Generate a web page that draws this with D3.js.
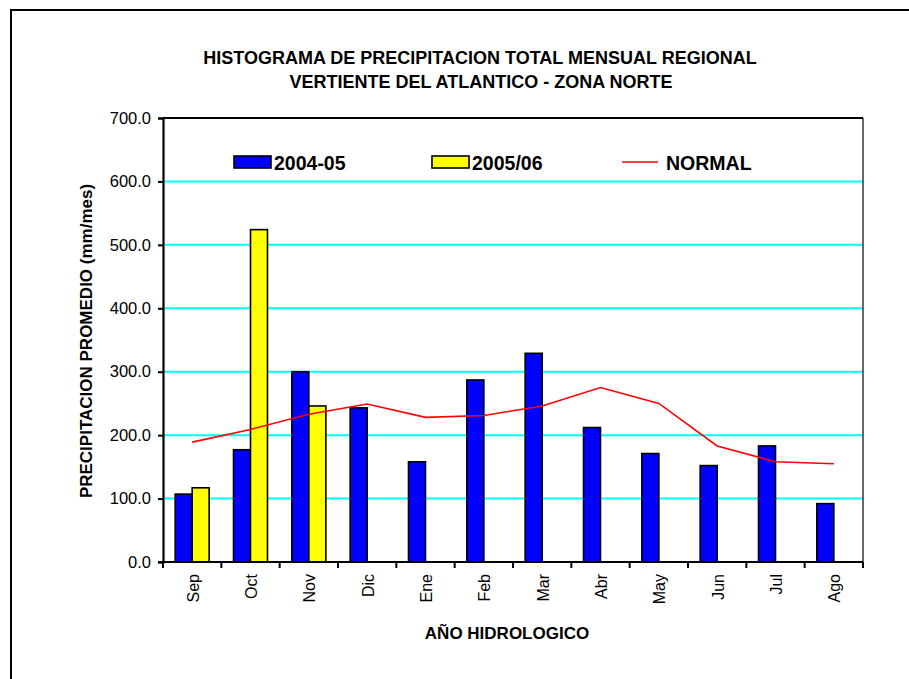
<!DOCTYPE html>
<html>
<head>
<meta charset="utf-8">
<script src="https://cdn.jsdelivr.net/npm/d3@7"></script>
<style>
  html, body { margin: 0; padding: 0; background: #fff; }
  svg { display: block; font-family: "Liberation Sans", Arial, sans-serif; }
</style>
</head>
<body>
<svg id="chart" width="909" height="679"></svg>
<script>
const months = ["Sep","Oct","Nov","Dic","Ene","Feb","Mar","Abr","May","Jun","Jul","Ago"];
const series2004 = [107, 177, 300, 243, 158, 287, 329, 212, 171, 152, 183, 92];
const series2005 = [117, 524, 246, null, null, null, null, null, null, null, null, null];
const normal = [189, 209, 233, 249, 228, 231, 246, 275, 250, 183, 158, 155];
const yTicks = [0, 100, 200, 300, 400, 500, 600, 700];
const seriesNames = ["2004-05", "2005/06"];
const seriesColors = ["#0000FF", "#FFFF00"];

const svg = d3.select("#chart");
const L = 163, R = 863, T = 118, B = 562;

// outer border
svg.append("path").attr("d", "M11,690 L11,10 L915,10")
  .attr("fill", "none").attr("stroke", "#000").attr("stroke-width", 2);

// titles
svg.append("text").attr("x", 480).attr("y", 64).attr("text-anchor", "middle")
  .attr("font-size", 18).attr("font-weight", "bold")
  .text("HISTOGRAMA DE PRECIPITACION TOTAL MENSUAL REGIONAL");
svg.append("text").attr("x", 481).attr("y", 88).attr("text-anchor", "middle")
  .attr("font-size", 18).attr("font-weight", "bold")
  .text("VERTIENTE DEL ATLANTICO - ZONA NORTE");

const x = d3.scaleBand().domain(months).range([L, R]).padding(0);
const x1 = d3.scaleBand().domain(seriesNames).range([0, x.bandwidth()]).paddingInner(0).paddingOuter(0.716);
const y = d3.scaleLinear().domain([0, 700]).range([B, T]);

// gridlines
svg.append("g").selectAll("line").data(yTicks.filter(d => d > 0 && d < 700)).join("line")
  .attr("x1", L).attr("x2", R).attr("y1", d => y(d)).attr("y2", d => y(d))
  .attr("stroke", "#00FFFF").attr("stroke-width", 2);

// plot border top/right
svg.append("line").attr("x1", L).attr("x2", R).attr("y1", T).attr("y2", T).attr("stroke", "#000").attr("stroke-width", 2);
svg.append("line").attr("x1", R).attr("x2", R).attr("y1", T).attr("y2", B).attr("stroke", "#000").attr("stroke-width", 1.2);

// bars
const allSeries = [series2004, series2005];
allSeries.forEach((arr, si) => {
  svg.append("g").selectAll("rect").data(months.map((m, i) => ({m, v: arr[i]})).filter(d => d.v != null)).join("rect")
    .attr("x", d => x(d.m) + x1(seriesNames[si]))
    .attr("width", x1.bandwidth())
    .attr("y", d => y(d.v))
    .attr("height", d => y(0) - y(d.v))
    .attr("fill", seriesColors[si])
    .attr("stroke", "#000").attr("stroke-width", 1.6);
});

// normal line
const line = d3.line().x((d, i) => x(months[i]) + x.bandwidth() / 2).y(d => y(d));
svg.append("path").datum(normal).attr("d", line)
  .attr("fill", "none").attr("stroke", "#FF0000").attr("stroke-width", 1.6);

// y axis
const yAxis = svg.append("g").attr("transform", `translate(${L},0)`)
  .call(d3.axisLeft(y).tickValues(yTicks).tickFormat(d3.format(".1f")).tickSize(5).tickPadding(7));
yAxis.select(".domain").attr("stroke", "#000").attr("stroke-width", 2.2);
yAxis.selectAll(".tick line").attr("stroke", "#000").attr("stroke-width", 2);
yAxis.selectAll("text").attr("font-size", 16.5).attr("font-family", "Liberation Sans, Arial, sans-serif").attr("fill", "#000");

// x axis with ticks at boundaries
const xAxis = svg.append("g").attr("transform", `translate(0,${B})`);
xAxis.append("line").attr("x1", L - 5).attr("x2", R).attr("stroke", "#000").attr("stroke-width", 2.2);
const bounds = d3.range(months.length + 1).map(i => L + i * x.step());
xAxis.selectAll("line.t").data(bounds).join("line").attr("class", "t")
  .attr("x1", d => d).attr("x2", d => d).attr("y1", 0).attr("y2", 6)
  .attr("stroke", "#000").attr("stroke-width", 2);
xAxis.selectAll("text").data(months).join("text")
  .attr("transform", d => `translate(${x(d) + x.bandwidth() / 2 + 1},${12}) rotate(-90)`)
  .attr("text-anchor", "end").attr("dy", "0.35em")
  .attr("font-size", 16).attr("fill", "#000").text(d => d);

// axis titles
svg.append("text").attr("transform", `translate(92,341) rotate(-90)`)
  .attr("text-anchor", "middle").attr("font-size", 17).attr("font-weight", "bold")
  .text("PRECIPITACION PROMEDIO (mm/mes)");
svg.append("text").attr("x", 507).attr("y", 639).attr("text-anchor", "middle")
  .attr("font-size", 17).attr("font-weight", "bold").text("AÑO HIDROLOGICO");

// legend
const lg = svg.append("g");
const legendItems = [
  {label: seriesNames[0], type: "rect", color: seriesColors[0], x: 234},
  {label: seriesNames[1], type: "rect", color: seriesColors[1], x: 432},
  {label: "NORMAL", type: "line", color: "#FF0000", x: 622}
];
legendItems.forEach(it => {
  if (it.type === "rect") {
    lg.append("rect").attr("x", it.x).attr("y", 156).attr("width", 37).attr("height", 12)
      .attr("fill", it.color).attr("stroke", "#000").attr("stroke-width", 1.6);
  } else {
    lg.append("line").attr("x1", it.x).attr("x2", it.x + 36).attr("y1", 162).attr("y2", 162)
      .attr("stroke", it.color).attr("stroke-width", 1.6);
  }
  lg.append("text").attr("x", it.type === "rect" ? it.x + 40 : it.x + 44).attr("y", 169.5)
    .attr("font-size", 19.5).attr("font-weight", "bold").text(it.label);
});
</script>
</body>
</html>
